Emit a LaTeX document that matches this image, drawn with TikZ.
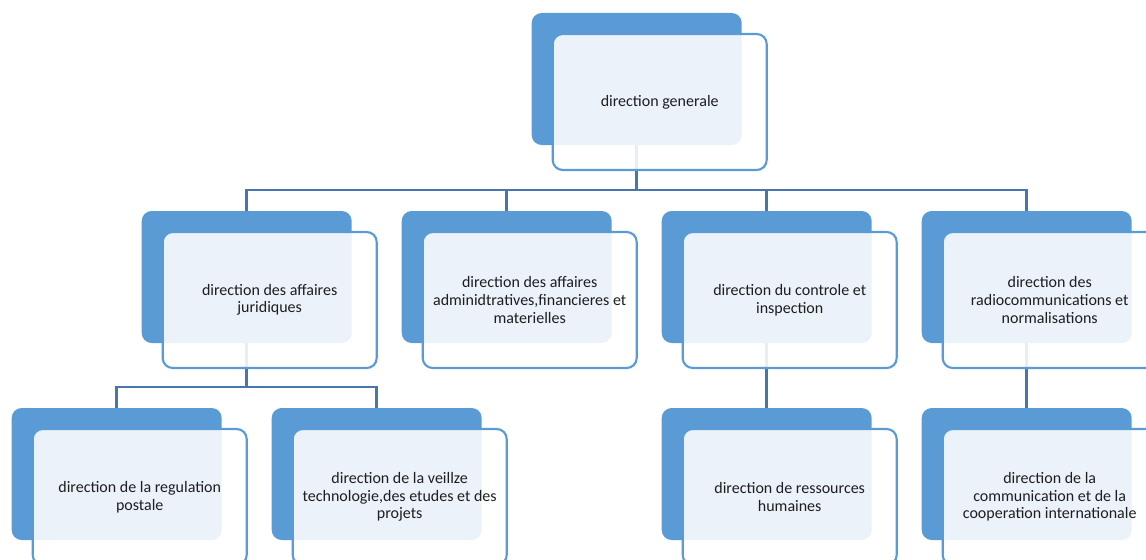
\documentclass[tikz,border=0pt]{standalone}
\usepackage{fontspec}
\setmainfont{Carlito}
\usetikzlibrary{positioning,backgrounds}
\definecolor{boxblue}{HTML}{5B9BD5}
\definecolor{linkblue}{HTML}{4676AC}
\definecolor{txtgray}{HTML}{1E1E1E}

\begin{document}
\begin{tikzpicture}[x=0.75pt, y=-0.75pt,
    backbox/.style={fill=boxblue, rounded corners=7.5pt, inner sep=0pt, outer sep=0pt,
        minimum width=157.5pt, minimum height=99pt},
    framebox/.style={draw=boxblue, line width=1.6pt, fill=white, fill opacity=0.88, text opacity=1,
        rounded corners=7.5pt, minimum width=160.5pt, minimum height=102pt, inner sep=2pt,
        align=center, text=txtgray, font=\fontsize{12}{13.2}\selectfont},
    link/.style={draw=linkblue, line width=2.2pt}]
    \useasboundingbox (0,0) rectangle (1146,560);
    \node[backbox] (gen-b) at (636.7,79) {};
    \node[framebox] (gen) at ([shift={(23,23)}]gen-b) {direction generale};
    \node[backbox] (jur-b) at (246.7,277) {};
    \node[framebox] (jur) at ([shift={(23,23)}]jur-b) {direction des affaires\\ juridiques};
    \node[backbox, right=37.5pt of jur-b] (adm-b) {};
    \node[framebox] (adm) at ([shift={(23,23)}]adm-b) {direction des affaires\\ adminidtratives,financieres et\\ materielles};
    \node[backbox, right=37.5pt of adm-b] (ctrl-b) {};
    \node[framebox] (ctrl) at ([shift={(23,23)}]ctrl-b) {direction du controle et\\ inspection};
    \node[backbox, right=37.5pt of ctrl-b] (radio-b) {};
    \node[framebox] (radio) at ([shift={(23,23)}]radio-b) {direction des\\ radiocommunications et\\ normalisations};
    \node[backbox] (post-b) at (116.7,474) {};
    \node[framebox] (post) at ([shift={(23,23)}]post-b) {direction de la regulation\\ postale};
    \node[backbox, right=37.5pt of post-b] (veil-b) {};
    \node[framebox] (veil) at ([shift={(23,23)}]veil-b) {direction de la veillze\\ technologie,des etudes et des\\ projets};
    \node[backbox, below=48.75pt of ctrl-b] (rh-b) {};
    \node[framebox] (rh) at ([shift={(23,23)}]rh-b) {direction de ressources\\ humaines};
    \node[backbox, below=48.75pt of radio-b] (coop-b) {};
    \node[framebox] (coop) at ([shift={(23,23)}]coop-b) {direction de la\\ communication et de la\\ cooperation internationale};
    \begin{scope}[on background layer]
        \draw[link] (gen-b.south) -- ++(0,45) -| (jur-b.north);
        \draw[link] (gen-b.south) -- ++(0,45) -| (adm-b.north);
        \draw[link] (gen-b.south) -- ++(0,45) -| (ctrl-b.north);
        \draw[link] (gen-b.south) -- ++(0,45) -| (radio-b.north);
        \draw[link] (jur-b.south) -- ++(0,44) -| (post-b.north);
        \draw[link] (jur-b.south) -- ++(0,44) -| (veil-b.north);
        \draw[link] (ctrl-b.south) -- (rh-b.north);
        \draw[link] (radio-b.south) -- (coop-b.north);
    \end{scope}
\end{tikzpicture}
\end{document}
